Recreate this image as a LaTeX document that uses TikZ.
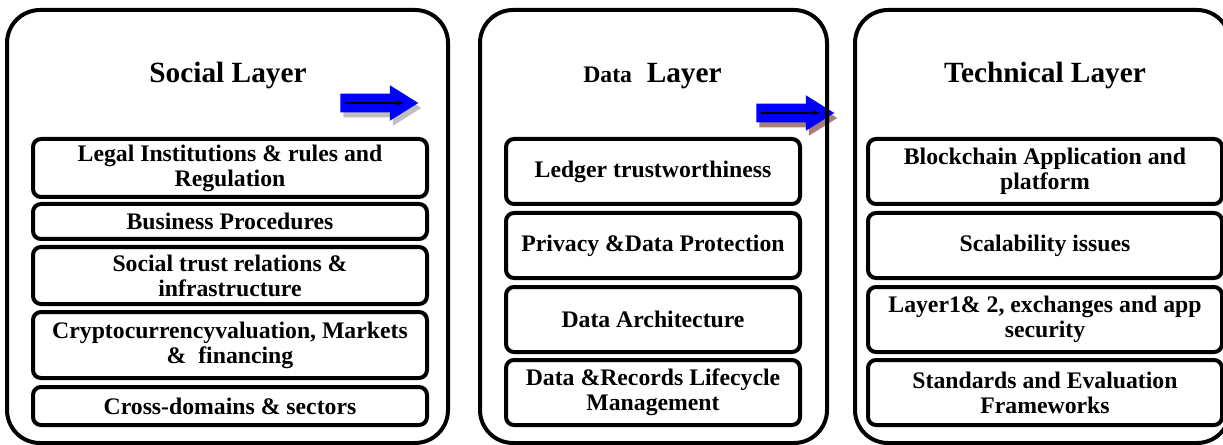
\documentclass[tikz,border=0pt]{standalone}
\usepackage{fontspec}
\setmainfont{Liberation Serif}
\usetikzlibrary{shapes.arrows,shadows,arrows.meta}
\newdimen\pxu \pxu=0.75pt
\definecolor{shadebrown}{RGB}{165,125,125}

\begin{document}
\begin{tikzpicture}[x=0.75pt, y=-0.75pt,
    layerbox/.style={draw, line width=4\pxu, rounded corners=33\pxu,
                     minimum width=#1, minimum height=433\pxu, inner sep=0pt},
    item/.style={draw, line width=4\pxu, rounded corners=8\pxu, align=center, inner sep=0pt,
                 font=\fontsize{17.8}{18.8}\selectfont\bfseries},
    title/.style={anchor=base, font=\fontsize{22}{26}\selectfont\bfseries},
    bigarrow/.style={single arrow, single arrow head extend=8.5\pxu, single arrow tip angle=64,
                     inner sep=0pt, text width=0pt, text height=18\pxu, text depth=0pt,
                     minimum height=78\pxu, minimum width=35\pxu, fill=blue, anchor=tail},
    thin/.style={-{Stealth[length=6pt,width=4pt]}, line width=1.5pt, black}
]
    \clip (0,0) rectangle (1223,445);

    % Arrows between the layers
    \node[bigarrow, drop shadow={shadow xshift=3\pxu, shadow yshift=-5\pxu, fill=gray!50, opacity=1}]
        (arrsoc) at (340,103) {};
    \draw[thin] ([xshift=5\pxu]arrsoc.tail) -- ([xshift=-15\pxu]arrsoc.tip);

    \node[bigarrow, drop shadow={shadow xshift=3\pxu, shadow yshift=-5\pxu, fill=shadebrown, opacity=1}]
        (arrdat) at (756,113) {};
    \draw[thin] ([xshift=5\pxu]arrdat.tail) -- ([xshift=-15\pxu]arrdat.tip);

    % Social layer
    \node[layerbox=441\pxu] (social) at (227.5,226.5) {};
    \node[title] (socialT) at (228,83) {Social Layer};
    \node[item, minimum width=394\pxu, minimum height=58\pxu] (legal) at (230,168)
        {Legal Institutions \& rules and\\Regulation};
    \node[item, minimum width=394\pxu, minimum height=35\pxu] (business) at (230,221.5)
        {Business Procedures};
    \node[item, minimum width=394\pxu, minimum height=57\pxu] (trust) at (230,275.5)
        {Social trust relations \&\\infrastructure};
    \node[item, minimum width=394\pxu, minimum height=66\pxu] (crypto) at (230,345)
        {Cryptocurrencyvaluation, Markets\\\&\ \ financing};
    \node[item, minimum width=394\pxu, minimum height=38\pxu] (cross) at (230,406)
        {Cross-domains \& sectors};

    % Data layer
    \node[layerbox=347\pxu] (data) at (653.5,226.5) {};
    \node[title] (dataT) at (652.5,83) {{\fontsize{17.8}{20}\selectfont Data}\ \ Layer};
    \node[item, minimum width=294\pxu, minimum height=65\pxu] (ledger) at (653,171.5)
        {Ledger trustworthiness};
    \node[item, minimum width=294\pxu, minimum height=65\pxu] (privacy) at (653,245.5)
        {Privacy \&Data Protection};
    \node[item, minimum width=294\pxu, minimum height=65\pxu] (arch) at (653,319.5)
        {Data Architecture};
    \node[item, minimum width=294\pxu, minimum height=65\pxu] (records) at (653,392.5)
        {Data \&Records Lifecycle\\Management};

    % Technical layer
    \node[layerbox=375\pxu] (tech) at (1042.5,226.5) {};
    \node[title] (techT) at (1045,83) {Technical Layer};
    \node[item, minimum width=354\pxu, minimum height=65\pxu] (chain) at (1045,171.5)
        {Blockchain Application and\\platform};
    \node[item, minimum width=354\pxu, minimum height=65\pxu] (scale) at (1045,245.5)
        {Scalability issues};
    \node[item, minimum width=354\pxu, minimum height=65\pxu] (secure) at (1045,319.5)
        {Layer1\& 2, exchanges and app\\security};
    \node[item, minimum width=354\pxu, minimum height=65\pxu] (std) at (1045,392.5)
        {Standards and Evaluation\\Frameworks};
\end{tikzpicture}
\end{document}
